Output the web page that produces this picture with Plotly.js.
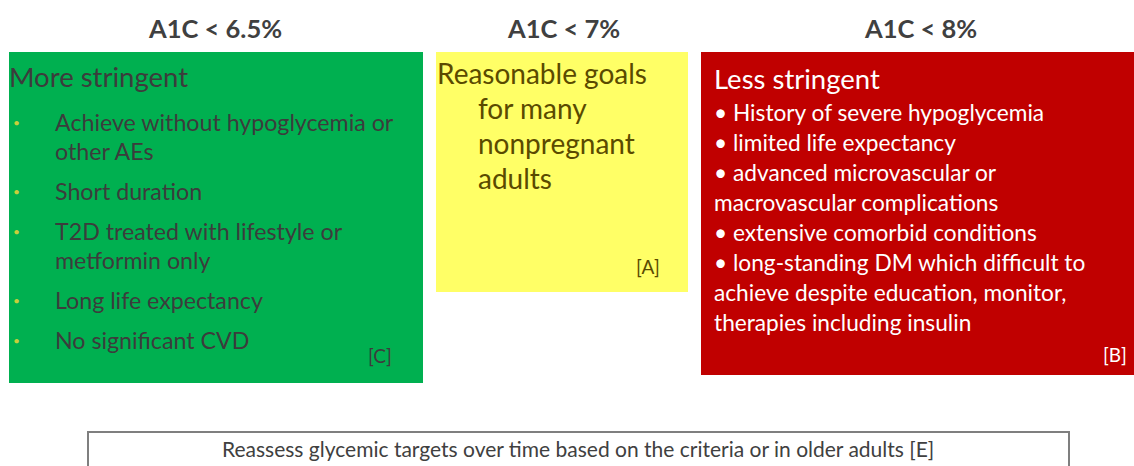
<!DOCTYPE html>
<html>
<head>
<meta charset="utf-8">
<script src="https://cdn.plot.ly/plotly-3.0.1.min.js"></script>
<style>
  html, body { margin: 0; padding: 0; background: #ffffff; }
  #chart { width: 1134px; height: 466px; }
</style>
</head>
<body>
<div id="chart"></div>
<script>
// Glycemic target tiers and the criteria listed under each
const targetLabels = ['A1C < 6.5%', 'A1C < 7%', 'A1C < 8%'];
const tierHeadings = ['More stringent', 'Reasonable goals', 'Less stringent'];
const tierRefs = ['[C]', '[A]', '[B]'];
const moreStringentItems = [
  ['Achieve without hypoglycemia or', 'other AEs'],
  ['Short duration'],
  ['T2D treated with lifestyle or', 'metformin only'],
  ['Long life expectancy'],
  ['No significant CVD']
];
const reasonableLines = ['for many', 'nonpregnant', 'adults'];
const lessStringentLines = [
  '• History of severe hypoglycemia',
  '• limited life expectancy',
  '• advanced microvascular or',
  'macrovascular complications',
  '• extensive comorbid conditions',
  '• long-standing DM which difficult to',
  'achieve despite education, monitor,',
  'therapies including insulin'
];
const footerNote = 'Reassess glycemic targets over time based on the criteria or in older adults [E]';

const FONT = 'Lato, "Open Sans", sans-serif';
const GRAY = '#404040';

// Panel geometry (pixel space of the slide)
const panels = [
  { x0: 9,   x1: 423,  y0: 52, y1: 383, fill: '#00b050', text: '#3c3c3c', center: 215 },
  { x0: 436, x1: 688,  y0: 52, y1: 292, fill: '#ffff66', text: '#5a4a00', center: 563 },
  { x0: 701, x1: 1134, y0: 52, y1: 375, fill: '#c00000', text: '#ffffff', center: 920 }
];

const shapes = panels.map(p => ({
  type: 'rect', xref: 'x', yref: 'y',
  x0: p.x0, x1: p.x1, y0: p.y0, y1: p.y1,
  fillcolor: p.fill, line: { width: 0 }, layer: 'below'
}));
shapes.push({
  type: 'rect', xref: 'x', yref: 'y',
  x0: 88, x1: 1069, y0: 432, y1: 480,
  fillcolor: 'rgba(0,0,0,0)', line: { color: '#7f7f7f', width: 2 }
});

const annotations = [];
function txt(x, y, text, size, color, opts) {
  annotations.push(Object.assign({
    x: x, y: y, xref: 'x', yref: 'y', text: text, showarrow: false,
    xanchor: 'left', yanchor: 'middle',
    font: { family: FONT, size: size, color: color }
  }, opts || {}));
}

// Column headers
targetLabels.forEach((t, i) => {
  txt(panels[i].center, 28, '<b>' + t + '</b>', 25.5, GRAY, { xanchor: 'center' });
});

// Green panel: heading, bullet list, reference
txt(7, 76, tierHeadings[0], 27.5, panels[0].text);
let yy = 122;
moreStringentItems.forEach(item => {
  txt(11, yy, '•', 12, '#c9cf3a');
  item.forEach((line, j) => {
    txt(53, yy + j * 29, line, 23.2, panels[0].text);
  });
  yy += (item.length - 1) * 29 + 40;
});
txt(394, 355, tierRefs[0], 19, panels[0].text, { xanchor: 'right' });

// Yellow panel
txt(435, 73, tierHeadings[1], 28, panels[1].text);
reasonableLines.forEach((line, i) => {
  txt(476, 108 + i * 35, line, 28, panels[1].text);
});
txt(662, 266, tierRefs[1], 19, panels[1].text, { xanchor: 'right' });

// Red panel
txt(712, 78, tierHeadings[2], 27.5, panels[2].text);
lessStringentLines.forEach((line, i) => {
  txt(712, 112 + i * 30, line, 22.7, panels[2].text);
});
txt(1129, 354, tierRefs[2], 19, panels[2].text, { xanchor: 'right' });

// Footer note
txt(578, 448, footerNote, 21, GRAY, { xanchor: 'center' });

const layout = {
  width: 1134, height: 466,
  margin: { l: 0, r: 0, t: 0, b: 0 },
  paper_bgcolor: '#ffffff', plot_bgcolor: '#ffffff',
  xaxis: { range: [0, 1134], visible: false, fixedrange: true },
  yaxis: { range: [466, 0], visible: false, fixedrange: true },
  showlegend: false,
  shapes: shapes,
  annotations: annotations
};

Plotly.newPlot('chart', [{ x: [], y: [], type: 'scatter', hoverinfo: 'skip' }], layout,
  { displayModeBar: false, staticPlot: true });
</script>
</body>
</html>
